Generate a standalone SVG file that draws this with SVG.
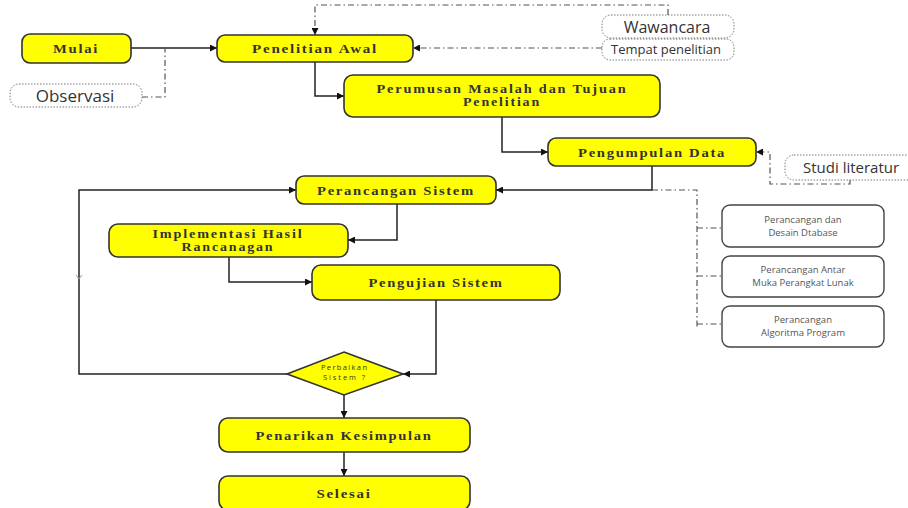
<svg xmlns="http://www.w3.org/2000/svg" width="908" height="508" viewBox="0 0 908 508">
<defs>
<marker id="ar" viewBox="0 0 10 10" refX="10" refY="5" markerWidth="9" markerHeight="7" markerUnits="userSpaceOnUse" orient="auto"><path d="M0,0 L10,5 L0,10 Z" fill="#111"/></marker>
</defs>
<style>
.y{fill:#ffff00;stroke:#333;stroke-width:1.6}
.d{fill:#fff;stroke:#777;stroke-width:1;stroke-dasharray:1.5,1.5}
.s{fill:#fff;stroke:#444;stroke-width:1.4}
.t{font-family:"Liberation Serif",serif;font-weight:bold;font-size:13px;letter-spacing:1.5px;fill:#333;text-anchor:middle}
.t2{font-family:"Liberation Serif",serif;font-weight:bold;font-size:11.5px;letter-spacing:1.5px;fill:#333;text-anchor:middle}
.u{font-family:"Open Sans","Liberation Sans",sans-serif;fill:#333;text-anchor:middle}
.g{font-family:"Open Sans","Liberation Sans",sans-serif;font-size:9.5px;fill:#555;text-anchor:middle}
.c{fill:none;stroke:#222;stroke-width:1.5}
.k{fill:none;stroke:#555;stroke-width:1.2;stroke-dasharray:6,3,1.5,3}
</style>
<rect width="908" height="508" fill="#fff"/>
<g id="connectors">
<path class="c" d="M131,48 H217" marker-end="url(#ar)"/>
<path class="k" d="M142,97 H165 V48"/>
<path class="k" d="M668,15 V5 H315 V35" marker-end="url(#ar)"/>
<path class="k" d="M602,48 H413" marker-end="url(#ar)"/>
<path class="c" d="M315,62 V96 H344" marker-end="url(#ar)"/>
<path class="c" d="M502,117 V152 H548" marker-end="url(#ar)"/>
<path class="k" d="M850,180 V184 H770 V152 H756" marker-end="url(#ar)"/>
<path class="c" d="M652,166 V190 H496" marker-end="url(#ar)"/>
<path class="k" d="M652,190 H697 V327"/>
<path class="k" d="M697,228 H722 M697,276 H722 M697,324 H722"/>
<path class="c" d="M397,204 V240 H348" marker-end="url(#ar)"/>
<path class="c" d="M229,257 V282 H312" marker-end="url(#ar)"/>
<path class="c" d="M436,300 V374 H403" marker-end="url(#ar)"/>
<path class="c" d="M287,374 H79 V190 H296" marker-end="url(#ar)"/>
<path fill="none" stroke="#999" stroke-width="1" d="M76,275 L79,279 L82,275"/>
<path class="c" d="M344,395 V418" marker-end="url(#ar)"/>
<path class="c" d="M344,452 V476" marker-end="url(#ar)"/>
</g>
<g id="mulai"><rect class="y" x="22" y="34" width="109" height="29" rx="8"/><text class="t" x="76" y="53" textLength="46" lengthAdjust="spacingAndGlyphs">Mulai</text></g>
<g id="penelitian-awal"><rect class="y" x="217" y="35" width="196" height="27" rx="8"/><text class="t" x="315" y="53" textLength="126" lengthAdjust="spacingAndGlyphs">Penelitian Awal</text></g>
<g id="perumusan"><rect class="y" x="344" y="75" width="316" height="42" rx="9"/><text class="t2" x="502" y="93" textLength="251" lengthAdjust="spacingAndGlyphs">Perumusan Masalah dan Tujuan</text><text class="t2" x="502" y="106" textLength="78" lengthAdjust="spacingAndGlyphs">Penelitian</text></g>
<g id="pengumpulan"><rect class="y" x="548" y="138" width="208" height="28" rx="8"/><text class="t" x="652" y="157" textLength="148" lengthAdjust="spacingAndGlyphs">Pengumpulan Data</text></g>
<g id="perancangan-sistem"><rect class="y" x="296" y="176" width="200" height="28" rx="8"/><text class="t" x="396" y="195" textLength="158" lengthAdjust="spacingAndGlyphs">Perancangan Sistem</text></g>
<g id="implementasi"><rect class="y" x="109" y="224" width="239" height="33" rx="9"/><text class="t2" x="228" y="238" textLength="151" lengthAdjust="spacingAndGlyphs">Implementasi Hasil</text><text class="t2" x="228" y="251" textLength="93" lengthAdjust="spacingAndGlyphs">Rancanagan</text></g>
<g id="pengujian"><rect class="y" x="312" y="265" width="248" height="35" rx="9"/><text class="t" x="436" y="287" textLength="135" lengthAdjust="spacingAndGlyphs">Pengujian Sistem</text></g>
<g id="perbaikan"><path class="y" d="M344,352 L403,374 L344,395 L287,374 Z"/><text class="u" x="344" y="370" font-size="7.5" textLength="46" lengthAdjust="spacing">Perbaikan</text><text class="u" x="344" y="380" font-size="7.5" textLength="42" lengthAdjust="spacing">Sistem ?</text></g>
<g id="penarikan"><rect class="y" x="219" y="418" width="251" height="34" rx="9"/><text class="t" x="344" y="440" textLength="177" lengthAdjust="spacingAndGlyphs">Penarikan Kesimpulan</text></g>
<g id="selesai"><rect class="y" x="219" y="476" width="251" height="34" rx="9"/><text class="t" x="344" y="498" textLength="55" lengthAdjust="spacingAndGlyphs">Selesai</text></g>
<g id="observasi"><rect class="d" x="10" y="84" width="132" height="23" rx="9"/><text class="u" x="75" y="102" font-size="17">Observasi</text></g>
<g id="wawancara"><rect class="d" x="602" y="15" width="132" height="23" rx="9"/><text class="u" x="667" y="33" font-size="16">Wawancara</text></g>
<g id="tempat"><rect class="d" x="602" y="39" width="132" height="21" rx="8"/><text class="u" x="666" y="54" font-size="13">Tempat penelitian</text></g>
<g id="studi"><rect class="d" x="785" y="155" width="140" height="25" rx="9"/><text class="u" x="803" y="173" font-size="15" style="text-anchor:start">Studi literatur</text></g>
<g id="desain-database"><rect class="s" x="722" y="205" width="162" height="42" rx="8"/><text class="g" x="803" y="223">Perancangan dan</text><text class="g" x="803" y="236">Desain Dtabase</text></g>
<g id="antar-muka"><rect class="s" x="722" y="256" width="162" height="41" rx="8"/><text class="g" x="803" y="273">Perancangan Antar</text><text class="g" x="803" y="286">Muka Perangkat Lunak</text></g>
<g id="algoritma"><rect class="s" x="722" y="306" width="162" height="41" rx="8"/><text class="g" x="803" y="323">Perancangan</text><text class="g" x="803" y="336">Algoritma Program</text></g>
</svg>
